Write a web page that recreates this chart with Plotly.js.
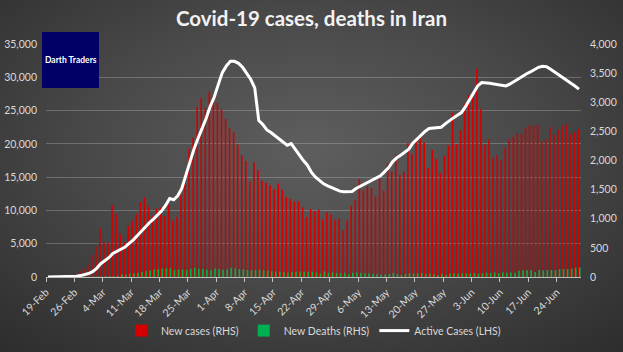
<!DOCTYPE html>
<html>
<head>
<meta charset="utf-8">
<script src="https://cdn.plot.ly/plotly-3.0.1.min.js"></script>
<style>
html,body{margin:0;padding:0;width:623px;height:352px;overflow:hidden;}
body{background:radial-gradient(ellipse 75% 80% at 50% 42%, #5e5e5e 0%, #4a4a4a 45%, #2c2c2c 100%);}
#chart{width:623px;height:352px;}
</style>
</head>
<body>
<div id="chart"></div>
<script>
// Daily data, 19-Feb-2020 .. 29-Jun-2020
const startDate = '2020-02-19';

const newCases = [
  2, 3, 13, 10, 15, 18, 34, 44, 106, 143, 205,
  385, 523, 835, 586, 591, 1234, 1076, 743, 595, 881, 958, 1075, 1289, 1365, 1209, 1053, 1178, 1192, 1046, 1237, 966, 1028, 1411, 1762, 2206, 2389, 2926, 3076, 2901, 3186, 3110,
  2987, 2875, 2715, 2560, 2483, 2274, 2089, 1997, 1634, 1972, 1837, 1657, 1617, 1574, 1512, 1606, 1499, 1374, 1343, 1294, 1297, 1194, 1030, 1168, 1134, 1153, 991, 1112, 1073, 983,
  1006, 802, 976, 1223, 1323, 1680, 1485, 1556, 1529, 1383, 1683, 1481, 1958, 1808, 2102, 1757, 1806, 2294, 2111, 2346, 2392, 2311, 1869, 2180, 2023, 1787, 2080, 2258, 2819, 2282, 2516,
  2979, 3117, 3134, 3574, 2886, 2269, 2364, 2043, 2095, 2011, 2218, 2369, 2410, 2472, 2449, 2563, 2612, 2596, 2615, 2322, 2368, 2573, 2445, 2531, 2595, 2628, 2456, 2489, 2536
];

const newDeaths = [
  2, 0, 2, 1, 3, 4, 4, 3, 7, 8, 9,
  11, 12, 11, 15, 15, 17, 21, 49, 43, 54, 63, 75, 85, 97, 113, 129, 135, 147, 149, 149, 123, 129, 127, 122, 143, 157, 144, 139, 123, 117, 141,
  138, 124, 134, 158, 151, 136, 133, 121, 117, 122, 125, 117, 111, 98, 94, 92, 89, 73, 87, 88, 94, 88, 90, 93, 76, 60, 96, 71, 80, 71,
  63, 74, 47, 74, 78, 68, 63, 65, 55, 51, 45, 48, 50, 71, 48, 35, 51, 65, 62, 66, 69, 51, 58, 50, 34, 57, 39, 56, 63, 57, 63,
  64, 64, 70, 59, 63, 75, 72, 81, 70, 81, 71, 78, 75, 107, 113, 115, 120, 87, 120, 116, 119, 121, 119, 133, 139, 134, 144, 162, 162
];

const activeCases = [
  2, 5, 18, 26, 37, 51, 79, 118, 210, 330, 520,
  800, 1300, 2000, 2400, 2900, 3550, 3900, 4200, 4500, 5050, 5550, 6200, 6900, 7500, 8150, 8700, 9300, 9900, 10750, 11800, 11600, 12200, 13300, 15200, 17400, 19200, 20800, 22200, 23800, 25600, 27000,
  28900, 30700, 31700, 32400, 32400, 32100, 31500, 30600, 29700, 28400, 23500, 22900, 22100, 21700, 21200, 20700, 20200, 19800, 20050, 19200, 18200, 17500, 16800, 15700, 15000, 14500, 14000, 13700, 13400, 13100,
  12900, 12800, 12800, 12850, 13300, 13600, 13900, 14300, 14600, 14900, 15200, 15800, 16400, 17300, 17900, 18300, 18700, 19200, 20100, 20700, 21300, 21860, 22300, 22350, 22400, 22500, 23000, 23500, 23900, 24300, 24700,
  25600, 26600, 27600, 28700, 29200, 29200, 29100, 29000, 28900, 28700, 28700, 29000, 29400, 29800, 30100, 30500, 30800, 31150, 31500, 31650, 31600, 31200, 30800, 30400, 30000, 29600, 29200, 28700, 28230
];

const leftTicks = [0, 5000, 10000, 15000, 20000, 25000, 30000, 35000];
const rightTicks = [0, 500, 1000, 1500, 2000, 2500, 3000, 3500, 4000];

// build date categories (noon of each day so bars sit inside day slots)
const dates = [];
{
  const d0 = new Date(startDate + 'T12:00:00Z');
  for (let i = 0; i < newCases.length; i++) {
    const d = new Date(d0.getTime() + i * 86400000);
    dates.push(d.toISOString().slice(0, 10) + ' 12:00');
  }
}

const txt = '#d9d9d9';
const fontFam = 'Lato, "Liberation Sans", Arial, sans-serif';

const traces = [
  {
    type: 'bar', name: 'New cases (RHS)', x: dates, y: newCases,
    yaxis: 'y', marker: {color: '#d40000', line: {width: 0}}
  },
  {
    type: 'bar', name: 'New Deaths (RHS)', x: dates, y: newDeaths,
    yaxis: 'y', marker: {color: '#00b050', line: {width: 0}}
  },
  {
    type: 'scatter', mode: 'lines', name: 'Active Cases (LHS)', x: dates, y: activeCases,
    yaxis: 'y2', line: {color: '#ffffff', width: 3}
  }
];

const layout = {
  width: 623, height: 352,
  paper_bgcolor: 'rgba(0,0,0,0)', plot_bgcolor: 'rgba(0,0,0,0)',
  margin: {l: 46, r: 42, t: 44, b: 75, autoexpand: false},
  font: {family: fontFam, color: txt, size: 10},
  title: {
    text: '<b>Covid-19 cases, deaths in Iran</b>',
    font: {family: fontFam, size: 20.5, color: '#f2f2f2'},
    x: 0.5, xanchor: 'center', y: 1 - 19/352, yanchor: 'middle', yref: 'container'
  },
  barmode: 'group', bargap: 0.2, bargroupgap: 0,
  showlegend: true,
  legend: {
    orientation: 'h', x: 0.5, xanchor: 'center', y: -0.23, yanchor: 'middle',
    font: {family: fontFam, size: 10.5, color: txt}, bgcolor: 'rgba(0,0,0,0)',
    traceorder: 'normal'
  },
  xaxis: {
    type: 'date', range: ['2020-02-19', '2020-06-30'], automargin: false,
    tick0: '2020-02-19', dtick: 7 * 86400000, tickformat: '%-d-%b',
    tickangle: -45, tickfont: {family: fontFam, size: 10.5, color: txt},
    showgrid: false, showline: true, linecolor: '#bfbfbf', linewidth: 1,
    ticks: 'outside', ticklen: 4, tickcolor: '#bfbfbf', zeroline: false
  },
  yaxis: {
    side: 'right', range: [0, 4000], tickvals: rightTicks, tickformat: ',', automargin: false,
    showgrid: false, zeroline: false, showline: false, ticks: '',
    ticklabelstandoff: 8,
    tickfont: {family: fontFam, size: 10.5, color: txt}
  },
  yaxis2: {
    side: 'left', overlaying: 'y', range: [0, 35000], tickvals: leftTicks, tickformat: ',', automargin: false,
    showgrid: true, gridcolor: 'rgba(200,200,200,0.32)', gridwidth: 1,
    zeroline: false, showline: false, ticks: '',
    ticklabelstandoff: 8,
    tickfont: {family: fontFam, size: 10.5, color: txt}
  },
  shapes: [{
    type: 'rect', xref: 'paper', yref: 'paper',
    x0: (42 - 46) / 535, x1: (99 - 46) / 535, y0: (277 - 88) / 233, y1: (277 - 32) / 233,
    fillcolor: '#000066', line: {width: 0}, layer: 'above'
  }],
  annotations: [{
    xref: 'paper', yref: 'paper', x: (70.5 - 46) / 535, y: (277 - 60) / 233,
    text: '<b>Darth Traders</b>', showarrow: false,
    font: {family: fontFam, size: 8.5, color: '#ffffff'}, xanchor: 'center', yanchor: 'middle'
  }]
};

Plotly.newPlot('chart', traces, layout, {displayModeBar: false, staticPlot: true});
</script>
</body>
</html>
